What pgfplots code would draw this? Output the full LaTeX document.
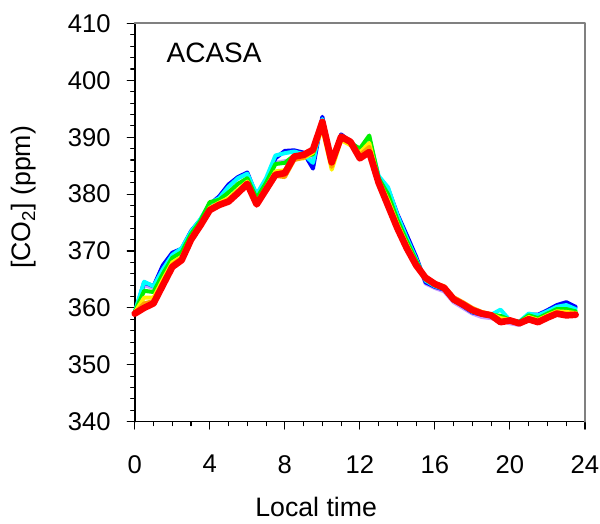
\documentclass[border=0pt]{standalone}
\usepackage{fontspec}
\setmainfont{Liberation Sans}
\usepackage{pgfplots}
\usepackage{pgfplotstable}
\pgfplotsset{compat=1.18}
\definecolor{cLav}{HTML}{C8A0FF}
\definecolor{cBlue}{HTML}{0000FF}
\definecolor{cCyan}{HTML}{00FFFF}
\definecolor{cGreen}{HTML}{00F000}
\definecolor{cYellow}{HTML}{FFF000}
\definecolor{cOrange}{HTML}{FFA000}
\definecolor{cRed}{HTML}{FF0000}
\pgfplotstableread{
x    a     b     c     g     y     o     r
0    359.0 359.0 359.3 359.3 359.2 359.1 359.0
0.5  364.0 364.5 364.6 363.0 361.8 360.8 360.0
1    363.5 363.8 363.8 362.8 361.8 361.2 360.8
1.5  367.0 367.5 366.8 366.0 365.0 364.5 364.0
2    369.5 369.7 369.3 368.8 368.0 367.6 367.2
2.5  370.2 370.4 370.5 369.8 369.0 368.8 368.4
3    373.3 373.5 373.4 373.0 372.4 372.2 372.0
3.5  375.4 375.5 375.6 375.3 374.8 374.6 374.5
4    378.2 378.2 378.4 378.6 377.6 377.3 377.2
4.5  379.4 379.6 379.3 379.0 378.5 378.3 378.1
5    381.5 381.7 381.3 380.3 379.3 379.0 378.7
5.5  382.8 383.0 382.8 381.8 380.8 380.4 380.2
6    383.6 383.8 383.6 382.8 382.2 382.0 381.8
6.5  379.6 379.7 380.0 379.3 378.6 378.4 378.2
7    382.4 382.5 382.8 382.0 381.2 381.0 380.8
7.5  385.5 386.3 386.8 385.3 384.0 383.2 383.4
8    385.8 387.6 387.2 385.5 384.2 383.0 383.7
8.5  386.0 387.7 387.5 386.8 386.2 386.0 386.6
9    386.8 387.3 387.0 386.6 386.3 386.4 386.9
9.5  386.5 384.5 385.5 387.0 387.3 387.6 387.8
10   393.0 393.6 393.2 392.2 391.5 392.0 392.7
10.5 385.4 385.5 385.3 385.2 384.3 384.8 385.6
11   390.4 390.5 390.3 390.0 389.5 389.8 390.1
11.5 389.2 389.2 389.3 389.0 388.6 388.9 389.2
12   387.2 387.3 387.5 388.0 387.3 386.9 386.3
12.5 389.4 389.5 389.8 390.3 389.0 388.3 387.4
13   382.8 383.0 383.2 382.8 382.4 382.2 382.0
13.5 380.8 381.0 381.2 380.0 379.0 378.5 378.0
14   376.2 376.5 376.3 375.5 374.8 374.3 374.0
14.5 372.5 372.8 372.3 371.8 371.2 370.8 370.5
15   368.8 369.0 368.6 368.3 367.9 367.7 367.5
15.5 364.3 364.5 364.8 365.0 365.3 365.5 365.3
16   363.5 363.7 363.8 364.0 364.2 364.4 364.2
16.5 362.9 363.2 363.3 363.4 363.6 363.8 363.5
17   361.0 361.3 361.3 361.4 361.7 361.9 361.5
17.5 360.0 360.3 360.4 360.5 360.8 361.0 360.6
18   359.0 359.2 359.3 359.5 359.8 360.0 359.6
18.5 358.4 358.8 358.9 359.0 359.2 359.3 359.0
19   358.2 358.5 358.8 358.8 358.9 358.9 358.7
19.5 357.8 358.3 359.7 358.6 358.2 357.8 357.5
20   357.3 357.6 357.8 357.9 357.9 357.9 357.8
20.5 357.0 357.4 357.6 357.5 357.4 357.3 357.3
21   358.5 358.8 359.0 358.7 358.4 358.2 358.0
21.5 358.6 358.8 358.7 358.2 357.9 357.7 357.5
22   359.4 359.6 359.4 359.0 358.7 358.5 358.3
22.5 360.2 360.5 360.2 359.8 359.4 359.2 359.0
23   360.6 361.0 360.5 359.8 359.3 358.9 358.7
23.5 360.0 360.2 359.8 359.4 359.1 358.9 358.8
}\datatable
\begin{document}
\begin{tikzpicture}
\begin{axis}[
  scale only axis,
  width=337.5pt, height=298.5pt,
  xmin=0, xmax=24, ymin=340, ymax=410,
  axis lines*=left,
  axis line style={black, line width=1.2pt},
  xtick={0,4,...,24}, ytick={340,350,...,410},
  minor x tick num=3, minor y tick num=4,
  tick align=outside,
  major tick length=5.6pt, minor tick length=3pt,
  every tick/.style={black, line width=0.8pt},
  /pgf/number format/assume math mode=true,
  tick label style={font=\fontsize{19.2}{22}\selectfont},
  yticklabel style={xshift=-9pt},
  xticklabel style={yshift=-16pt},
  xlabel={Local time},
  ylabel={[CO\textsubscript{2}] (ppm)},
  label style={font=\fontsize{20}{24}\selectfont},
  xlabel style={at={(axis description cs:0.403,-0.215)}, anchor=center},
  ylabel style={at={(axis description cs:-0.246,0.563)}, anchor=center},
  clip=false,
  line join=round, line cap=round,
]
\addplot[cLav, line width=3pt] table[x=x,y=a] {\datatable};
\addplot[cBlue, line width=3pt] table[x=x,y=b] {\datatable};
\addplot[cCyan, line width=3pt] table[x=x,y=c] {\datatable};
\addplot[cGreen, line width=3pt] table[x=x,y=g] {\datatable};
\addplot[cYellow, line width=3pt] table[x=x,y=y] {\datatable};
\addplot[cOrange, line width=3pt] table[x=x,y=o] {\datatable};
\addplot[cRed, line width=5pt] table[x=x,y=r] {\datatable};
\draw[gray, line width=1.5pt] (rel axis cs:0,1) -- (rel axis cs:1,1) -- (rel axis cs:1,0);
\node[font=\fontsize{21}{25}\selectfont, anchor=center] at (axis cs:4.23,404.8) {ACASA};
\coordinate (sw) at (rel axis cs:0,0);
\coordinate (ne) at (rel axis cs:1,1);
\end{axis}
\pgfresetboundingbox
\path ([shift={(-101pt,-76.1pt)}]sw) rectangle ([shift={(11.25pt,17.6pt)}]ne);
\end{tikzpicture}
\end{document}
